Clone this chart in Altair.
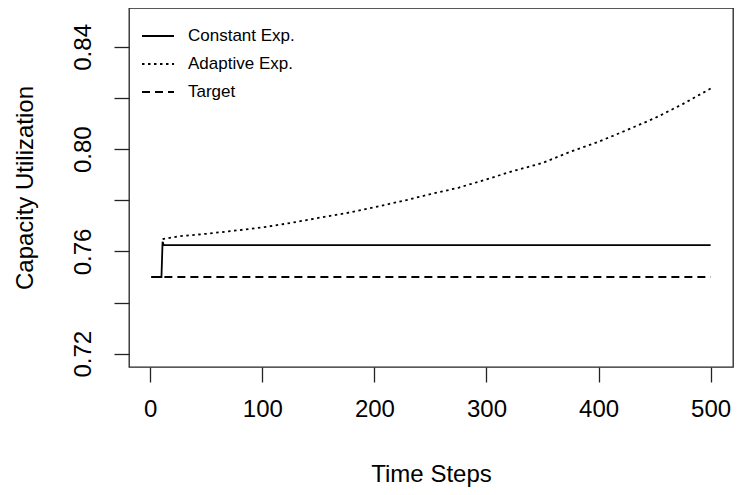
import altair as alt
import pandas as pd

# ---- data ----
series_names = ["Constant Exp.", "Adaptive Exp.", "Target"]

constant_t = [1, 10, 11, 12, 500]
constant_v = [0.75, 0.75, 0.7638, 0.7625, 0.7625]

adaptive_t = [11, 25, 50, 75, 100, 125, 150, 175, 200, 225, 250, 275,
              300, 325, 350, 375, 400, 425, 450, 475, 500]
adaptive_v = [0.7648, 0.7659, 0.7669, 0.7681, 0.7694, 0.7711, 0.7731, 0.7750,
              0.7773, 0.7797, 0.7824, 0.7849, 0.7882, 0.7916, 0.7946, 0.7990,
              0.8029, 0.8074, 0.8121, 0.8176, 0.8237]

target_t = [1, 500]
target_v = [0.75, 0.75]

x_ticks = [0, 100, 200, 300, 400, 500]
y_ticks = [0.72, 0.74, 0.76, 0.78, 0.80, 0.82, 0.84]
y_labelled = [0.72, 0.76, 0.80, 0.84]

rows = []
for t, v in zip(constant_t, constant_v):
    rows.append({"t": t, "v": v, "series": series_names[0]})
for t, v in zip(adaptive_t, adaptive_v):
    rows.append({"t": t, "v": v, "series": series_names[1]})
for t, v in zip(target_t, target_v):
    rows.append({"t": t, "v": v, "series": series_names[2]})
df = pd.DataFrame(rows)

FONT = "Liberation Sans"

label_expr = "(" + " || ".join(
    f"abs(datum.value - {v}) < 0.001" for v in y_labelled
) + ") ? format(datum.value, '.2f') : ''"

chart = (
    alt.Chart(df)
    .mark_line(strokeWidth=1.8, color="black")
    .encode(
        x=alt.X(
            "t:Q",
            scale=alt.Scale(domain=[-18.96, 519.96], nice=False, zero=False),
            axis=alt.Axis(
                title="Time Steps",
                values=x_ticks,
                format="d",
                grid=False,
                domain=False,
                tickSize=15,
                tickColor="#222",
                tickWidth=1.3,
                labelFontSize=24,
                labelFont=FONT,
                labelColor="black",
                labelPadding=15,
                titleFont=FONT,
                titleFontSize=24,
                titleFontWeight="normal",
                titleColor="black",
                titleY=114,
                titleBaseline="alphabetic",
            ),
        ),
        y=alt.Y(
            "v:Q",
            scale=alt.Scale(domain=[0.7148, 0.8552], nice=False, zero=False),
            axis=alt.Axis(
                title="Capacity Utilization",
                values=y_ticks,
                labelExpr=label_expr,
                grid=False,
                domain=False,
                tickSize=15,
                tickColor="#222",
                tickWidth=1.3,
                labelFontSize=24,
                labelFont=FONT,
                labelColor="black",
                labelAngle=270,
                labelAlign="center",
                labelBaseline="alphabetic",
                labelPadding=24,
                titleFont=FONT,
                titleFontSize=24,
                titleFontWeight="normal",
                titleColor="black",
                titleAngle=270,
                titleX=-97,
                titleBaseline="alphabetic",
            ),
        ),
        strokeDash=alt.StrokeDash(
            "series:N",
            scale=alt.Scale(domain=series_names, range=[[1, 0], [2.5, 3.5], [8, 5]]),
            sort=series_names,
            legend=alt.Legend(
                title=None,
                orient="none",
                legendX=12,
                legendY=11,
                symbolType="stroke",
                symbolSize=1024,
                symbolStrokeWidth=1.8,
                symbolStrokeColor="black",
                labelFont=FONT,
                labelFontSize=17,
                labelColor="black",
                labelOffset=13,
                rowPadding=3,
                padding=0,
            ),
        ),
        detail="series:N",
        order="t:Q",
    )
    .properties(
        width=604,
        height=359,
        padding={"left": 121, "top": 0, "right": 1, "bottom": 120},
        autosize=alt.AutoSizeParams(type="none"),
    )
    .configure(background="white")
    .configure_view(stroke="#222", strokeWidth=1.3)
)

chart.save("out.html", embed_options={"renderer": "svg", "actions": False})
